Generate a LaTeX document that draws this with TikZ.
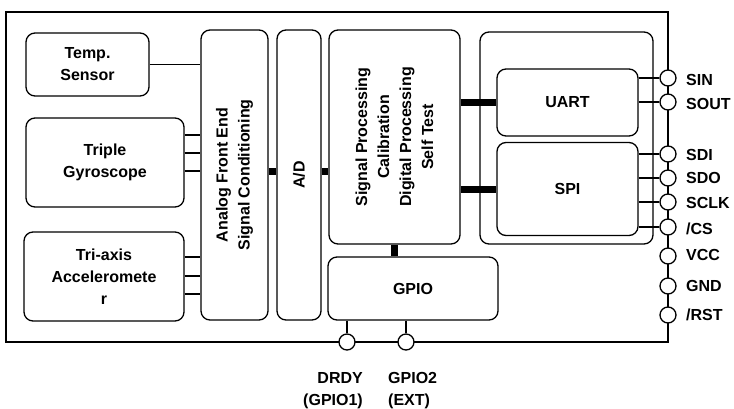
\documentclass[tikz,border=0pt]{standalone}
\usepackage{fontspec}
\setmainfont{Liberation Sans}
\begin{document}
\begin{tikzpicture}[x=1pt,y=-1pt,
  lbl/.style={font=\fontsize{16}{22}\selectfont\bfseries},
  blk/.style={draw, line width=1.3pt, rounded corners=9pt, inner sep=0pt, align=center, lbl},
  pin/.style={circle, draw, fill=white, line width=1.3pt, minimum size=16pt, inner sep=0pt},
  wire/.style={line width=1.2pt},
  bus/.style={line width=7pt},
  pinlbl/.style={lbl, anchor=west, inner sep=0pt}]
\useasboundingbox (0,0) rectangle (734,408);
\node[draw, line width=1.7pt, minimum width=662pt, minimum height=330pt, inner sep=0pt] (frame) at (337,177) {};
% blocks
\node[blk, minimum width=123pt, minimum height=63pt] (temp) at (87.5,64.5) {Temp.\\Sensor};
\node[blk, minimum width=158pt, minimum height=89pt] (gyro) at (105,162.5) {Triple\\Gyroscope};
\node[blk, minimum width=160pt, minimum height=89pt] (acc) at (104,276.5) {Tri-axis\\Acceleromete\\r};
\node[blk, minimum width=67pt, minimum height=290pt] (afe) at (234.5,175) {};
\node[lbl, rotate=90, align=center, inner sep=0pt] (afetxt) at (afe.center) {Analog Front End\\Signal Conditioning};
\node[blk, minimum width=44pt, minimum height=290pt] (ad) at (299,175) {};
\node[lbl, rotate=90, inner sep=0pt] (adtxt) at (ad.center) {A/D};
\node[blk, minimum width=131pt, minimum height=214pt] (sp) at (394.5,137) {};
\node[lbl, rotate=90, align=center, inner sep=0pt] (sptxt) at (sp.center) {Signal Processing\\Calibration\\Digital Processing\\Self Test};
\node[blk, minimum width=170pt, minimum height=63pt] (gpio) at (413,288.5) {GPIO};
\node[blk, minimum width=173pt, minimum height=212pt] (iface) at (566.5,138) {};
\node[blk, minimum width=141pt, minimum height=67pt] (uart) at (567.5,102.5) {UART};
\node[blk, minimum width=141pt, minimum height=93pt] (spi) at (567.5,189) {SPI};
% sensor wires
\draw[wire] (temp.east) -- (temp.east -| afe.west);
\draw[wire] ([yshift=27.5pt]gyro.east) coordinate (g1) -- (g1 -| afe.west);
\draw[wire] ([yshift=9.5pt]gyro.east) coordinate (g2) -- (g2 -| afe.west);
\draw[wire] ([yshift=-8.5pt]gyro.east) coordinate (g3) -- (g3 -| afe.west);
\draw[wire] ([yshift=19.5pt]acc.east) coordinate (a1) -- (a1 -| afe.west);
\draw[wire] ([yshift=0.5pt]acc.east) coordinate (a2) -- (a2 -| afe.west);
\draw[wire] ([yshift=-17.5pt]acc.east) coordinate (a3) -- (a3 -| afe.west);
% buses
\draw[bus] ([yshift=4pt]afe.east) coordinate (b1) -- (b1 -| ad.west);
\draw[bus] ([yshift=4pt]ad.east) coordinate (b2) -- (b2 -| sp.west);
\draw[bus] (uart.west -| sp.east) -- (uart.west);
\draw[bus] (spi.west -| sp.east) -- (spi.west);
\draw[bus] (sp.south) -- (sp.south |- gpio.north);
% pins
\foreach \n/\y in {sin/78, sout/102, sdi/154, sdo/178, sclk/202, cs/227, vcc/256, gnd/286, rst/315}
  \node[pin] (\n) at (668,\y) {};
\node[pin] (drdy) at (347,342) {};
\node[pin] (gpiotwo) at (406,342) {};
% pin wires
\draw[wire] (sin.west -| uart.east) -- (sin.west);
\draw[wire] (sout.west -| uart.east) -- (sout.west);
\draw[wire] (sdi.west -| spi.east) -- (sdi.west);
\draw[wire] (sdo.west -| spi.east) -- (sdo.west);
\draw[wire] (sclk.west -| spi.east) -- (sclk.west);
\draw[wire] (cs.west -| spi.east) -- (cs.west);
\draw[wire] (gpio.south -| drdy.north) -- (drdy.north);
\draw[wire] (gpio.south -| gpiotwo.north) -- (gpiotwo.north);
% pin labels
\node[pinlbl] (sinl) at (686,80) {SIN};
\node[pinlbl] (soutl) at (686,104) {SOUT};
\node[pinlbl] (sdil) at (686,154.5) {SDI};
\node[pinlbl] (sdol) at (686,177.5) {SDO};
\node[pinlbl] (sclkl) at (686,203) {SCLK};
\node[pinlbl] (csl) at (686,229) {/CS};
\node[pinlbl] (vccl) at (686,255) {VCC};
\node[pinlbl] (gndl) at (686,286) {GND};
\node[pinlbl] (rstl) at (686,315) {/RST};
\node[lbl, align=right, anchor=north east, inner sep=0pt] (drdyl) at (363,372) {DRDY\\(GPIO1)};
\node[lbl, align=left, anchor=north west, inner sep=0pt] (gpiotwol) at (388,372) {GPIO2\\(EXT)};
\end{tikzpicture}
\end{document}
